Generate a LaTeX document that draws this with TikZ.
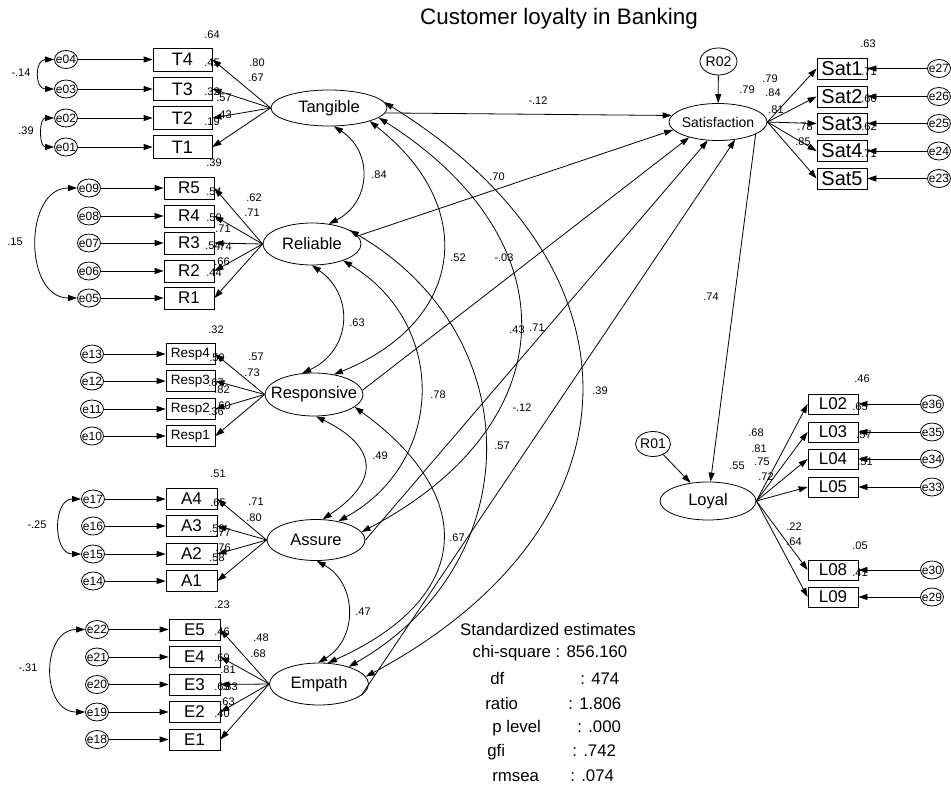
\documentclass[tikz,border=0pt]{standalone}
\usepackage{fontspec}
\setmainfont{Liberation Sans}
\usepackage{tikz}
\usetikzlibrary{arrows.meta}
\usetikzlibrary{shapes.geometric}
\newcommand{\nowide}[1]{\makebox[0pt]{#1}}

\begin{document}
\begin{tikzpicture}[
		x=1pt, y=-1pt,
		line width=0.8pt,
		latent/.style={ellipse, draw, inner sep=0pt, font=\fontsize{16.5}{18}\selectfont},
		resid/.style={ellipse, draw, inner sep=0pt, font=\fontsize{14}{16}\selectfont},
		item/.style={rectangle, draw, inner sep=0pt},
		err/.style={ellipse, draw, minimum width=23, minimum height=18, inner sep=0pt, font=\fontsize{12}{13}\selectfont},
		est/.style={inner sep=0pt, font=\fontsize{11}{12}\selectfont},
		stat/.style={inner sep=0pt, font=\fontsize{16.8}{19}\selectfont},
		arr/.style={-{Stealth[length=9pt, width=6pt, inset=0pt]}},
		cov/.style={{Stealth[length=9pt, width=6pt, inset=0pt]}-{Stealth[length=9pt, width=6pt, inset=0pt]}}
	]
	\useasboundingbox (0,0) rectangle (951,787);

	\node[font=\fontsize{22.4}{25}\selectfont, inner sep=0pt] (title)
		at (559,19) {Customer loyalty in Banking};

	% latent variables
	\node[latent, minimum width=116, minimum height=36] (Tangible) at (329,108) {\nowide{Tangible}};
	\node[latent, minimum width=98, minimum height=42] (Reliable) at (312,244) {\nowide{Reliable}};
	\node[latent, minimum width=98, minimum height=43] (Responsive) at (314,394.5) {\nowide{Responsive}};
	\node[latent, minimum width=98, minimum height=41] (Assure) at (316,540) {\nowide{Assure}};
	\node[latent, minimum width=99, minimum height=42] (Empath) at (319,684) {\nowide{Empath}};
	\node[latent, minimum width=98, minimum height=37, font=\fontsize{14}{16}\selectfont] (Satisfaction)
		at (718,122) {\nowide{Satisfaction}};
	\node[latent, minimum width=96, minimum height=38] (Loyal) at (708,501) {\nowide{Loyal}};
	\node[resid, minimum width=37, minimum height=27] (R02) at (718.5,61.5) {\nowide{R02}};
	\node[resid, minimum width=35, minimum height=25] (R01) at (653,444) {\nowide{R01}};

	% indicators
	\foreach \n/\y/\er in {T4/59.5/e04, T3/89/e03, T2/118/e02, T1/147/e01}{
		\node[item, minimum width=59, minimum height=23, font=\fontsize{18}{20}\selectfont] (\n) at (182.5,\y) {\n};
		\node[err] (\er) at (66,\y) {\nowide{\er}};
		\draw[arr] (\er) -- (\n);
		\draw[arr] (Tangible.west) -- (\n.east);
	}
	\foreach \n/\y/\er in {R5/188/e09, R4/216/e08, R3/243/e07, R2/271/e06, R1/298/e05}{
		\node[item, minimum width=50, minimum height=22, font=\fontsize{17}{19}\selectfont] (\n) at (189,\y) {\n};
		\node[err] (\er) at (89,\y) {\nowide{\er}};
		\draw[arr] (\er) -- (\n);
		\draw[arr] (Reliable.west) -- (\n.east);
	}
	\foreach \n/\y/\er in {Resp4/354/e13, Resp3/381/e12, Resp2/409/e11, Resp1/436/e10}{
		\node[item, minimum width=49, minimum height=21, font=\fontsize{13.5}{15}\selectfont] (\n) at (190.5,\y) {\n};
		\node[err] (\er) at (92,\y) {\nowide{\er}};
		\draw[arr] (\er) -- (\n);
		\draw[arr] (Responsive.west) -- (\n.east);
	}
	\foreach \n/\y/\er in {A4/499/e17, A3/526/e16, A2/554/e15, A1/581/e14}{
		\node[item, minimum width=51, minimum height=21, font=\fontsize{17}{19}\selectfont] (\n) at (191.5,\y) {\n};
		\node[err] (\er) at (93,\y) {\nowide{\er}};
		\draw[arr] (\er) -- (\n);
		\draw[arr] (Assure.west) -- (\n.east);
	}
	\foreach \n/\y/\er in {E5/629.5/e22, E4/657/e21, E3/684.5/e20, E2/712/e19, E1/739.5/e18}{
		\node[item, minimum width=51, minimum height=21, font=\fontsize{17}{19}\selectfont] (\n) at (194.5,\y) {\n};
		\node[err] (\er) at (97,\y) {\nowide{\er}};
		\draw[arr] (\er) -- (\n);
		\draw[arr] (Empath.west) -- (\n.east);
	}
	\foreach \n/\y/\er in {Sat1/68.5/e27, Sat2/96.5/e26, Sat3/123.5/e25, Sat4/151/e24, Sat5/178.5/e23}{
		\node[item, minimum width=50, minimum height=21, font=\fontsize{20}{22}\selectfont] (\n) at (842,\y) {\n};
		\node[err] (\er) at (939,\y) {\nowide{\er}};
		\draw[arr] (\er) -- (\n);
		\draw[arr] (Satisfaction.east) -- (\n.west);
	}
	\foreach \n/\y/\er in {L02/404/e36, L03/432/e35, L04/459/e34, L05/487/e33, L08/570/e30, L09/597/e29}{
		\node[item, minimum width=50, minimum height=20, font=\fontsize{17}{19}\selectfont] (\n) at (833,\y) {\n};
		\node[err] (\er) at (932,\y) {\nowide{\er}};
		\draw[arr] (\er) -- (\n);
		\draw[arr] (Loyal.east) -- (\n.west);
	}

	% error covariances
	\draw[cov] (e04.west) to[out=180, in=180, looseness=1.7] (e03.west);
	\draw[cov] (e02.west) to[out=180, in=180, looseness=1.35] (e01.west);
	\draw[cov] (e09.west) to[out=180, in=180, looseness=1.25] (e05.west);
	\draw[cov] (e17.west) to[out=180, in=180, looseness=1.33] (e15.west);
	\draw[cov] (e22.west) to[out=180, in=180, looseness=1.38] (e19.west);

	% factor covariances
	\draw[cov] (Tangible.-75) to[bend left=60, looseness=1.24] (Reliable.50);
	\draw[cov] (Tangible.-18) to[bend left=60, looseness=1.4] (Responsive.45);
	\draw[cov] (Tangible.-11) to[bend left=60, looseness=1.42] (Assure.10);
	\draw[cov] (Tangible.6) to[bend left=60, looseness=1.41] (Empath.9);
	\draw[cov] (Reliable.-90) to[bend left=60, looseness=1.26] (Responsive.119);
	\draw[cov] (Reliable.-28) to[bend left=60, looseness=1.2] (Assure.40);
	\draw[cov] (Reliable.20) to[bend left=60, looseness=1.22] (Empath.30);
	\draw[cov] (Responsive.-85) to[bend left=60, looseness=1.72] (Assure.72);
	\draw[cov] (Responsive.-17) to[bend left=60, looseness=1.55] (Empath.67);
	\draw[cov] (Assure.-88) to[bend left=60, looseness=1.17] (Empath.92);

	% structural paths
	\draw[arr] (Tangible.-5) -- (Satisfaction.172);
	\draw[arr] (Reliable.10) -- (Satisfaction.190);
	\draw[arr] (Responsive.5) -- (Satisfaction.208);
	\draw[arr] (Assure.0) -- (Satisfaction.241);
	\draw[arr] (Empath.-15) -- (Satisfaction.-46);
	\draw[arr] (Satisfaction.-18) -- (Loyal);
	\draw[arr] (R02) -- (Satisfaction);
	\draw[arr] (R01) -- (Loyal);

	% estimates
	\foreach \x/\y/\t [count=\i] in {212/35/.64, 257/63/.80, 212/63/.45, 256/78/.67, 212/92/.32,
		224/98/.57, 224/115/.43, 212/122/.19, 214/163/.39, 254/198/.62, 214/192/.54, 252/213/.71,
		214/218/.50, 223/229/.71, 213/246/.54, 224/247/.74, 222/262/.66, 214/273/.44,
		216/330/.32, 256/357/.57, 217/358/.59, 252/373/.73, 216/383/.67, 222/390/.82,
		223/406/.60, 216/412/.36, 218/474/.51, 256/502/.71, 218/503/.65, 254/518/.80,
		217/529/.59, 223/533/.77, 223/548/.76, 217/558/.58, 222/605/.23, 261/638/.48,
		222/632/.46, 258/654/.68, 222/658/.69, 228/670/.81, 222/687/.65, 230/687/.83,
		227/702/.63, 222/714/.40}
		\node[est] (ld\i) at (\x,\y) {\t};
	\foreach \x/\y/\t [count=\i] in {868/44/.63, 770/79/.79, 747/90/.79, 773/93/.84, 776/110/.81,
		805/127/.78, 803/142/.85, 869/72/.71, 869/99/.60, 869/127/.62, 869/154/.71,
		862/379/.46, 860/407/.65, 756/433/.68, 759/449/.81, 762/462/.75, 766/477/.72,
		737/466/.55, 864/435/.57, 865/462/.51, 794/527/.22, 794/542/.64, 860/546/.05, 860/573/.41}
		\node[est] (rd\i) at (\x,\y) {\t};
	\foreach \x/\y/\t [count=\i] in {538/101/-.12, 379/175/.84, 497/177/.70, 458/258/.52,
		504/258/-.03, 357/323/.63, 517/330/.43, 537/328/.71, 438/395/.78, 522/408/-.12,
		600/391/.39, 502/446/.57, 380/456/.49, 457/538/.67, 363/612/.47, 711/297/.74,
		21/73/-.14, 26/131/.39, 15/242/.15, 37/525/-.25, 28/668/-.31}
		\node[est] (cv\i) at (\x,\y) {\t};

	% fit statistics
	\node[stat] (fit0) at (548,629) {Standardized estimates};
	\node[stat] (fit1) at (550,653) {chi-square : 856.160};
	\foreach \w/\wx/\v/\vx/\y [count=\i] in {df/490/{: 474}/580/684, ratio/485/{: 1.806}/568/709,
		p level/492/{: .000}/577/732, gfi/487/{: .742}/572/756, rmsea/492/{: .074}/570/781}{
		\node[stat, anchor=base west] (fitw\i) at (\wx,\y) {\w};
		\node[stat, anchor=base west] (fitv\i) at (\vx,\y) {\v};
	}
\end{tikzpicture}
\end{document}
